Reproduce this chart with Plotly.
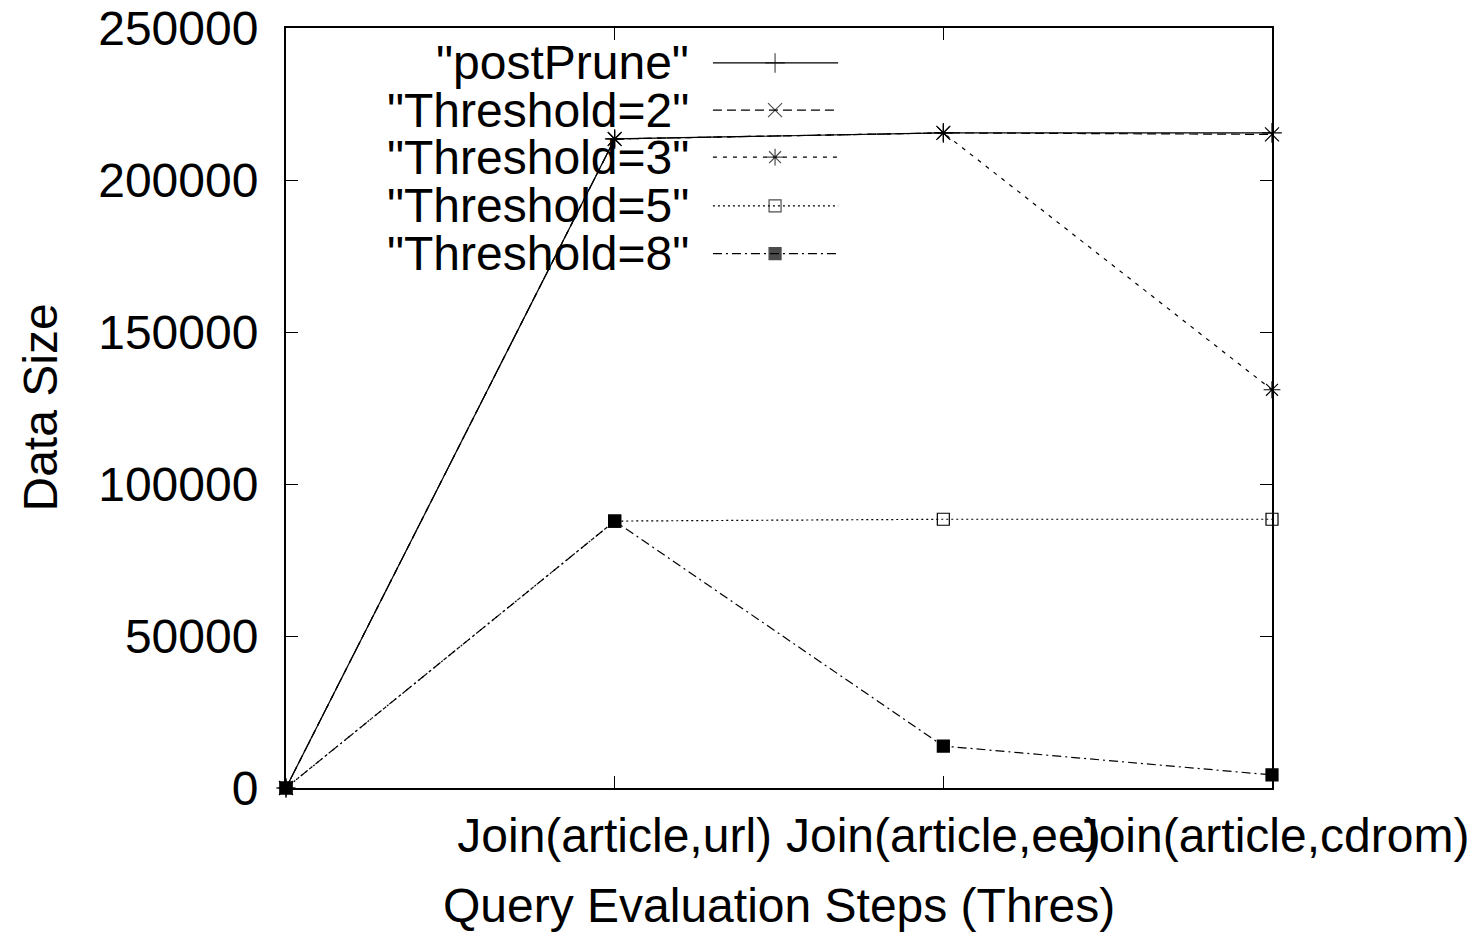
import plotly.graph_objects as go

# Data
step_labels = ["", "Join(article,url)", "Join(article,ee)", "Join(article,cdrom)"]
steps = [0, 1, 2, 3]
post_prune = [0, 213500, 215500, 215500]
threshold2 = [0, 213500, 215500, 215000]
threshold3 = [0, 213500, 215500, 131000]
threshold5 = [0, 87800, 88400, 88400]
threshold8 = [0, 87800, 13800, 4300]

series_names = ['"postPrune"', '"Threshold=2"', '"Threshold=3"', '"Threshold=5"', '"Threshold=8"']
series_values = [post_prune, threshold2, threshold3, threshold5, threshold8]
dashes = ["solid", "9px,5px", "4px,6px", "2px,3px", "9px,4px,2px,4px"]
symbols = ["cross-thin-open", "x-thin-open", "asterisk-open", "square-open", "square"]
sizes = [14, 14, 14, 12, 12]

FONT = "Liberation Sans, Arial, sans-serif"
FS = 48
fig = go.Figure()

for name, vals, dash, sym, sz in zip(series_names, series_values, dashes, symbols, sizes):
    fig.add_trace(go.Scatter(
        x=steps, y=vals, mode="lines+markers", name=name,
        line=dict(color="black", width=1.2, dash=dash),
        marker=dict(symbol=sym, size=sz, color="black", line=dict(color="black", width=1.2)),
        cliponaxis=False, showlegend=False,
    ))

# Custom legend (gnuplot style: text on the left, sample on the right)
legend_rows = [0.954, 0.892, 0.830, 0.766, 0.703]
x_text = 0.411
x_line0, x_mark, x_line1 = 0.433, 0.496, 0.560
for name, dash, sym, sz, yrow in zip(series_names, dashes, symbols, sizes, legend_rows):
    fig.add_trace(go.Scatter(
        x=[x_line0, x_mark, x_line1], y=[yrow, yrow, yrow],
        xaxis="x2", yaxis="y2", mode="lines+markers",
        line=dict(color="black", width=1.2, dash=dash),
        marker=dict(symbol=sym, size=[0, sz, 0], color="black", line=dict(color="black", width=1.2)),
        showlegend=False, hoverinfo="skip", cliponaxis=False,
    ))
    fig.add_annotation(x=x_text, y=yrow, xref="paper", yref="paper", text=name,
                       showarrow=False, xanchor="right", yanchor="middle",
                       font=dict(family=FONT, size=FS, color="black"))

# Axis titles
fig.add_annotation(x=0.5, y=-0.155, xref="paper", yref="paper",
                   text="Query Evaluation Steps (Thres)", showarrow=False,
                   xanchor="center", yanchor="middle",
                   font=dict(family=FONT, size=FS, color="black"))
fig.add_annotation(x=-0.250, y=0.5, xref="paper", yref="paper",
                   text="Data Size", showarrow=False, textangle=-90,
                   xanchor="center", yanchor="middle",
                   font=dict(family=FONT, size=FS, color="black"))

fig.update_layout(
    width=1473, height=933,
    margin=dict(l=286, r=201, t=28, b=145),
    paper_bgcolor="white", plot_bgcolor="white",
    font=dict(family=FONT, size=FS, color="black"),
    showlegend=False,
    xaxis=dict(
        range=[0, 3], tickmode="array", tickvals=steps[1:], ticktext=step_labels[1:],
        tickangle=0, ticks="inside", ticklen=12, tickwidth=1, tickcolor="black",
        showline=True, linecolor="black", linewidth=2, mirror="ticks",
        showgrid=False, zeroline=False, automargin=False,
        ticklabelstandoff=4,
    ),
    yaxis=dict(
        range=[0, 250000], tickmode="linear", tick0=0, dtick=50000, tickformat="d",
        ticks="inside", ticklen=12, tickwidth=1, tickcolor="black",
        showline=True, linecolor="black", linewidth=2, mirror="ticks",
        showgrid=False, zeroline=False, ticklabelstandoff=16, automargin=False,
    ),
    xaxis2=dict(range=[0, 1], overlaying="x", visible=False, domain=[0, 1]),
    yaxis2=dict(range=[0, 1], overlaying="y", visible=False),
)

fig.write_html(
    "out.html",
    config={"displayModeBar": False},
    post_script="document.body.style.margin='0';document.body.style.overflow='hidden';",
)
